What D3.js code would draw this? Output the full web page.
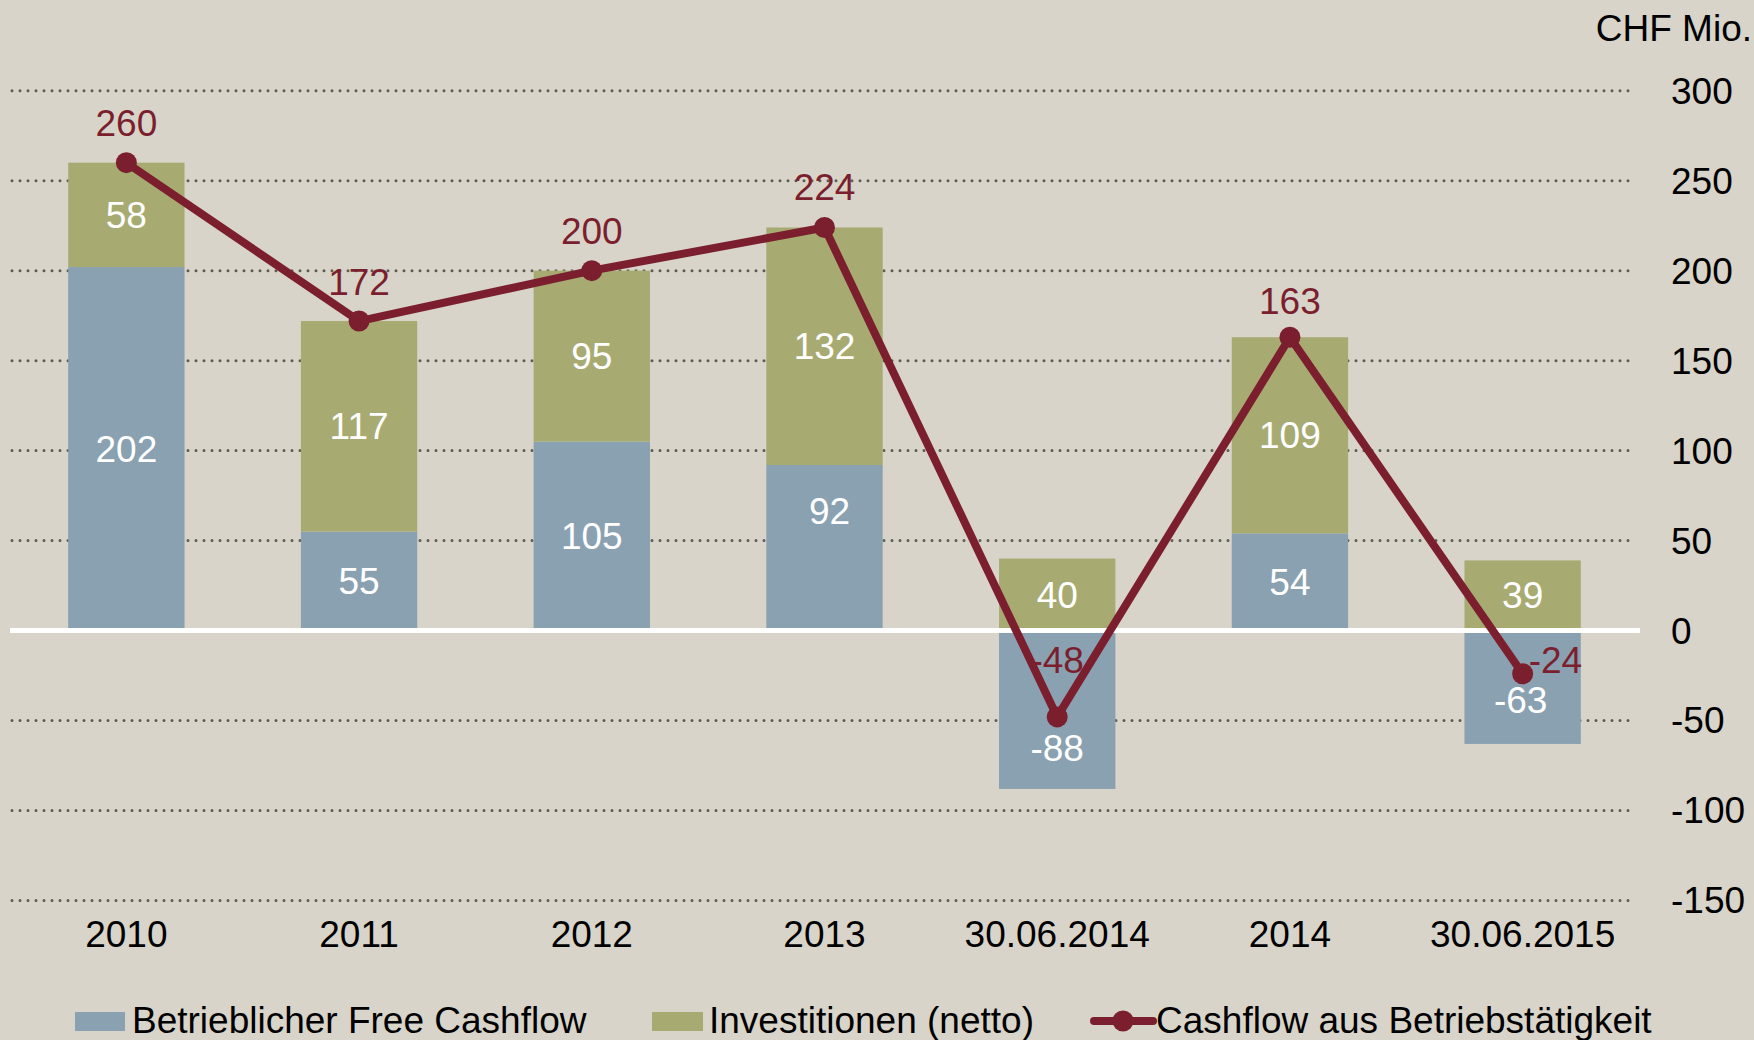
<!DOCTYPE html>
<html>
<head>
<meta charset="utf-8">
<script src="https://cdn.jsdelivr.net/npm/d3@7"></script>
<style>
  html, body { margin: 0; padding: 0; background: #d8d4c9; }
  svg { display: block; font-family: "Liberation Sans", Arial, sans-serif; }
</style>
</head>
<body>
<script>
// ---- data ----
const categories = ["2010", "2011", "2012", "2013", "30.06.2014", "2014", "30.06.2015"];
const freeCashflow = [202, 55, 105, 92, -88, 54, -63];
const investitionen = [58, 117, 95, 132, 40, 109, 39];
const cashflowBetrieb = [260, 172, 200, 224, -48, 163, -24];
const yTicks = [-150, -100, -50, 0, 50, 100, 150, 200, 250, 300];
const seriesNames = ["Betrieblicher Free Cashflow", "Investitionen (netto)", "Cashflow aus Betriebstätigkeit"];
const unitLabel = "CHF Mio.";

// ---- style ----
const W = 1754, H = 1040;
const colBlue = "#8aa1b1", colGreen = "#a7ab72", colLine = "#7b1f2e", colBg = "#d8d4c9";
const fontSize = 37;

const svg = d3.select("body").append("svg").attr("width", W).attr("height", H);
svg.append("rect").attr("width", W).attr("height", H).attr("fill", colBg);

const x = d3.scaleBand().domain(categories).range([10, 1639]).paddingInner(0.5).paddingOuter(0.25);
const y = d3.scaleLinear().domain([-150, 300]).range([900.5, 90.7]);

// gridlines
svg.append("g").selectAll("line").data(yTicks.filter(t => t !== 0)).join("line")
  .attr("x1", 12).attr("x2", 1636)
  .attr("y1", d => y(d)).attr("y2", d => y(d))
  .attr("stroke", "#5c5c52").attr("stroke-width", 3)
  .attr("stroke-linecap", "round").attr("stroke-dasharray", "0,8");

// y tick labels
svg.append("g").selectAll("text").data(yTicks).join("text")
  .attr("x", 1671).attr("y", d => y(d)).attr("dy", "0.35em")
  .attr("font-size", fontSize).attr("fill", "#000").text(d => d);

svg.append("text").attr("x", 1752).attr("y", 41).attr("text-anchor", "end")
  .attr("font-size", fontSize).attr("fill", "#000").text(unitLabel);

// stacked bars
const rows = categories.map((c, i) => {
  const b = freeCashflow[i], g = investitionen[i];
  let posBase = 0, negBase = 0;
  const seg = [];
  [[b, colBlue, "b"], [g, colGreen, "g"]].forEach(([v, col, k]) => {
    if (v >= 0) { seg.push({ c, i, v, y0: posBase, y1: posBase + v, col, k }); posBase += v; }
    else { seg.push({ c, i, v, y0: negBase, y1: negBase + v, col, k }); negBase += v; }
  });
  return seg;
}).flat();

svg.append("g").selectAll("rect").data(rows).join("rect")
  .attr("x", d => x(d.c)).attr("width", x.bandwidth())
  .attr("y", d => y(Math.max(d.y0, d.y1)))
  .attr("height", d => Math.abs(y(d.y0) - y(d.y1)))
  .attr("fill", d => d.col);

// zero line
svg.append("line").attr("x1", 10).attr("x2", 1640).attr("y1", y(0)).attr("y2", y(0))
  .attr("stroke", "#ffffff").attr("stroke-width", 5);

// line series
const cx = c => x(c) + x.bandwidth() / 2;
const lineGen = d3.line().x((d, i) => cx(categories[i])).y(d => y(d));
svg.append("path").datum(cashflowBetrieb).attr("d", lineGen)
  .attr("fill", "none").attr("stroke", colLine).attr("stroke-width", 8).attr("stroke-linejoin", "round");
svg.append("g").selectAll("circle").data(cashflowBetrieb).join("circle")
  .attr("cx", (d, i) => cx(categories[i])).attr("cy", d => y(d)).attr("r", 10.5).attr("fill", colLine);

// bar value labels (white)
const nudge = { "b3": [5, -37], "b4": [0, 38], "b6": [-2, 13] };
svg.append("g").selectAll("text").data(rows).join("text")
  .attr("x", d => cx(d.c) + ((nudge[d.k + d.i] || [0, 0])[0]))
  .attr("y", d => y((d.y0 + d.y1) / 2) + ((nudge[d.k + d.i] || [0, 0])[1]))
  .attr("dy", "0.35em").attr("text-anchor", "middle")
  .attr("font-size", fontSize).attr("fill", "#ffffff").text(d => d.v);

// line value labels
const lineLabelRaise = [27, 26, 27, 27, 44, 23, 1];
svg.append("g").selectAll("text").data(cashflowBetrieb).join("text")
  .attr("x", (d, i) => cx(categories[i]) + (i === 6 ? 6 : 0))
  .attr("y", (d, i) => y(d) - lineLabelRaise[i])
  .attr("text-anchor", (d, i) => i === 6 ? "start" : "middle")
  .attr("font-size", fontSize).attr("fill", colLine).text(d => d);

// category labels
svg.append("g").selectAll("text").data(categories).join("text")
  .attr("x", d => cx(d)).attr("y", 947).attr("text-anchor", "middle")
  .attr("font-size", fontSize).attr("fill", "#000").text(d => d);

// legend
const lg = svg.append("g");
lg.append("rect").attr("x", 75).attr("y", 1012).attr("width", 50).attr("height", 19).attr("fill", colBlue);
lg.append("text").attr("x", 132).attr("y", 1033).attr("font-size", fontSize).text(seriesNames[0]);
lg.append("rect").attr("x", 652).attr("y", 1012).attr("width", 51).attr("height", 19).attr("fill", colGreen);
lg.append("text").attr("x", 709).attr("y", 1033).attr("font-size", fontSize).text(seriesNames[1]);
lg.append("line").attr("x1", 1094).attr("x2", 1153).attr("y1", 1021).attr("y2", 1021)
  .attr("stroke", colLine).attr("stroke-width", 8).attr("stroke-linecap", "round");
lg.append("circle").attr("cx", 1123).attr("cy", 1021).attr("r", 10.5).attr("fill", colLine);
lg.append("text").attr("x", 1156).attr("y", 1033).attr("font-size", fontSize).text(seriesNames[2]);
</script>
</body>
</html>
